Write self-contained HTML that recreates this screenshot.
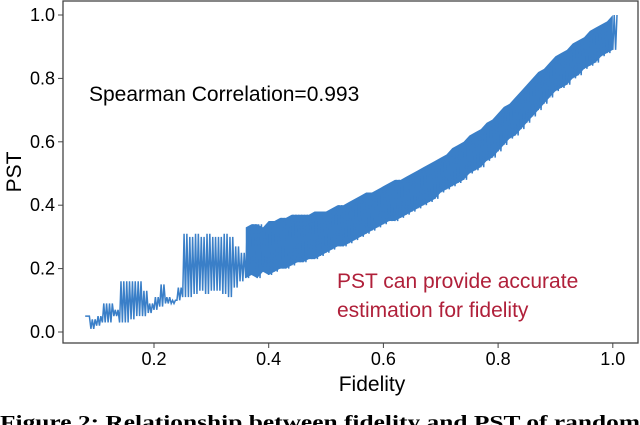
<!DOCTYPE html>
<html><head><meta charset="utf-8"><style>
body{margin:0;background:#fff;width:640px;height:425px;overflow:hidden}
svg{display:block;font-family:"Liberation Sans",sans-serif}
</style></head><body>
<svg id="chart" width="640" height="425" viewBox="0 0 640 425">
<rect x="63" y="1" width="575" height="342" fill="none" stroke="#444" stroke-width="1.3"/>
<g id="ticks"></g>
<g id="series"></g>
<text x="89" y="101" font-size="21" fill="#000">Spearman Correlation=0.993</text>
<text x="337" y="288" font-size="21" fill="#b0203a">PST can provide accurate</text>
<text x="337" y="317" font-size="21" fill="#b0203a">estimation for fidelity</text>
<text x="372" y="391" font-size="21" text-anchor="middle">Fidelity</text>
<text transform="translate(21,172) rotate(-90)" font-size="21" text-anchor="middle">PST</text>
<text x="0" y="429" font-size="20" font-weight="bold" font-family="Liberation Serif,serif" textLength="640" lengthAdjust="spacingAndGlyphs">Figure 2: Relationship between fidelity and PST of random</text>
</svg>
<script>
const xTicks=[0.2,0.4,0.6,0.8,1.0];
const yTicks=[0.0,0.2,0.4,0.6,0.8,1.0];
const fidelity=[0.08,0.09,0.10,0.11,0.12,0.13,0.14,0.15,0.16,0.17,0.18,0.19,0.20,0.21,0.22,0.23,0.24,0.25,0.26,0.27,0.28,0.29,0.30,0.31,0.32,0.33,0.34,0.35,0.36,0.37,0.38,0.39,0.40,0.41,0.42,0.43,0.44,0.45,0.46,0.47,0.48,0.49,0.50,0.51,0.52,0.53,0.54,0.55,0.56,0.57,0.58,0.59,0.60,0.61,0.62,0.63,0.64,0.65,0.66,0.67,0.68,0.69,0.70,0.71,0.72,0.73,0.74,0.75,0.76,0.77,0.78,0.79,0.80,0.81,0.82,0.83,0.84,0.85,0.86,0.87,0.88,0.89,0.90,0.91,0.92,0.93,0.94,0.95,0.96,0.97,0.98,0.99,1.00];
const pstLow=[0.05,0.01,0.02,0.03,0.03,0.05,0.03,0.03,0.04,0.05,0.05,0.06,0.07,0.08,0.09,0.09,0.10,0.11,0.11,0.12,0.13,0.12,0.13,0.13,0.12,0.11,0.14,0.16,0.17,0.18,0.17,0.19,0.18,0.19,0.20,0.20,0.21,0.22,0.22,0.23,0.23,0.24,0.25,0.26,0.27,0.27,0.28,0.29,0.30,0.31,0.32,0.33,0.34,0.35,0.35,0.36,0.37,0.38,0.39,0.40,0.41,0.42,0.44,0.45,0.46,0.47,0.48,0.50,0.51,0.52,0.54,0.55,0.57,0.59,0.61,0.62,0.64,0.66,0.68,0.70,0.72,0.74,0.76,0.77,0.78,0.80,0.81,0.83,0.84,0.85,0.87,0.88,0.89];
const pstHigh=[0.05,0.04,0.05,0.09,0.09,0.07,0.16,0.16,0.16,0.16,0.13,0.09,0.11,0.15,0.11,0.10,0.14,0.31,0.30,0.31,0.30,0.31,0.30,0.30,0.31,0.30,0.27,0.25,0.33,0.34,0.34,0.33,0.35,0.35,0.36,0.36,0.37,0.37,0.37,0.37,0.38,0.38,0.38,0.39,0.40,0.40,0.41,0.42,0.43,0.44,0.44,0.45,0.46,0.47,0.48,0.48,0.49,0.50,0.51,0.52,0.53,0.54,0.55,0.56,0.58,0.59,0.60,0.62,0.63,0.64,0.66,0.67,0.69,0.71,0.72,0.74,0.76,0.78,0.80,0.82,0.83,0.85,0.87,0.88,0.89,0.91,0.92,0.93,0.95,0.96,0.97,0.98,1.00];
const NS='http://www.w3.org/2000/svg';
const xs=v=>154+(v-0.2)*573.5;
const ys=v=>332-v*317;
const tg=document.getElementById('ticks');
xTicks.forEach(t=>{
 const l=document.createElementNS(NS,'line');
 
 
 l.setAttribute('x1',xs(t));l.setAttribute('x2',xs(t));l.setAttribute('y1',343);l.setAttribute('y2',348);l.setAttribute('stroke','#444');
 tg.appendChild(l);
 const tx=document.createElementNS(NS,'text');
 
 
 tx.setAttribute('x',xs(t));tx.setAttribute('y',365);tx.setAttribute('font-size','18');tx.setAttribute('text-anchor','middle');
 tx.textContent=t.toFixed(1);tg.appendChild(tx);
});
yTicks.forEach(t=>{
 const l=document.createElementNS(NS,'line');
 
 
 l.setAttribute('x1',58);l.setAttribute('x2',63);l.setAttribute('y1',ys(t));l.setAttribute('y2',ys(t));l.setAttribute('stroke','#444');
 tg.appendChild(l);
 const tx=document.createElementNS(NS,'text');
 
 
 tx.setAttribute('x',55);tx.setAttribute('y',ys(t)+6);tx.setAttribute('font-size','18');tx.setAttribute('text-anchor','end');
 tx.textContent=t.toFixed(1);tg.appendChild(tx);
});
const sg=document.getElementById('series');
let band=[];
fidelity.forEach((f,i)=>{if(f>=0.36)band.push(xs(f)+','+ys(pstHigh[i]));});
for(let i=fidelity.length-1;i>=0;i--){if(fidelity[i]>=0.36)band.push(xs(fidelity[i])+','+ys(pstLow[i]));}
const poly=document.createElementNS(NS,'polygon');


poly.setAttribute('points',band.join(' '));poly.setAttribute('fill','#3a7fc8');
sg.appendChild(poly);
let pts=[];
fidelity.forEach((f,i)=>{
 const x=xs(f);
 const lo=ys(pstLow[i]),hi=ys(pstHigh[i]);
 pts.push(x+','+lo);pts.push((x+1.4)+','+hi);pts.push((x+2.8)+','+lo);pts.push((x+4.2)+','+hi);
});
const pl=document.createElementNS(NS,'polyline');


pl.setAttribute('points',pts.join(' '));pl.setAttribute('fill','none');pl.setAttribute('stroke','#3a7fc8');pl.setAttribute('stroke-width','1.5');
sg.appendChild(pl);
</script>
</body></html>
